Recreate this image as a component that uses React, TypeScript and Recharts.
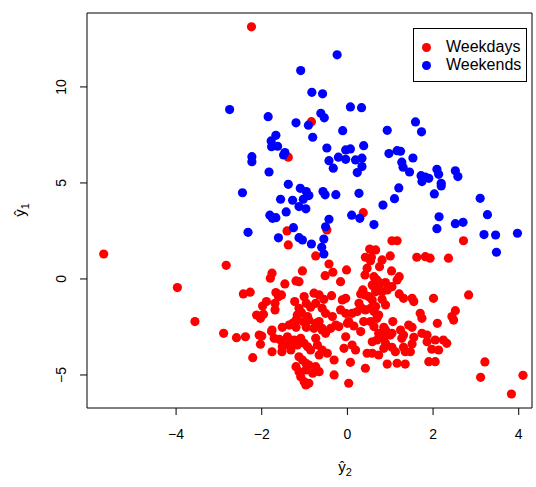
import { ScatterChart, Scatter, XAxis, YAxis, Legend, ReferenceArea } from 'recharts';

// Points, [x = y-hat 2, y = y-hat 1]
const weekends: [number, number][] = [
  [-2.75, 8.82], [-0.24, 11.67], [-1.09, 10.85], [-0.83, 9.72], [-0.58, 9.64],
  [-1.85, 8.45], [-0.62, 8.63], [-0.54, 8.39], [0.07, 8.96], [0.33, 8.92],
  [-0.91, 8.01], [-1.2, 8.13], [-0.11, 7.72], [-1.67, 7.48], [-0.81, 7.38],
  [-1.78, 7.19], [-1.77, 6.89], [-1.63, 6.91], [-0.48, 6.82], [0.38, 6.94],
  [-0.04, 6.72], [0.07, 6.77], [-1.46, 6.58], [-1.49, 6.46], [-2.23, 6.37],
  [-0.21, 6.34], [-0.04, 6.23], [0.19, 6.2], [0.34, 6.29], [-0.43, 6.16],
  [1.59, 8.18], [0.93, 7.74], [1.73, 7.66], [0.97, 6.53], [1.16, 6.68],
  [1.24, 6.65], [1.53, 6.3], [1.27, 6.08], [-2.23, 6.11], [-0.33, 5.77],
  [0.34, 5.85], [0.23, 5.54], [-1.83, 5.57], [-1.38, 4.93], [-1.1, 4.72],
  [-0.96, 4.55], [-0.9, 4.34], [-1.03, 4.15], [-0.57, 4.55], [-0.52, 4.38],
  [-0.27, 4.39], [0.27, 4.46], [-2.45, 4.49], [-1.56, 4.15], [-1.28, 4.1],
  [-1.13, 3.77], [-0.97, 3.65], [-1.43, 3.49], [-1.81, 3.32], [-1.75, 3.16],
  [-1.67, 3.19], [-0.43, 3.11], [0.1, 3.32], [0.29, 3.16], [0.62, 2.83],
  [-2.32, 2.43], [-1.26, 2.67], [-0.51, 2.72], [-1.61, 2.14], [-1.13, 2.15],
  [-1.05, 2.03], [-0.55, 2.08], [-0.84, 1.82], [-0.6, 1.65], [-0.55, 1.3],
  [1.3, 5.82], [1.45, 5.57], [1.72, 5.38], [1.74, 5.07], [1.82, 5.3],
  [1.9, 5.24], [2.09, 5.71], [2.13, 5.45], [2.19, 4.98], [2.19, 4.84],
  [2.52, 5.63], [2.58, 5.33], [2.03, 4.43], [1.2, 4.74], [1.1, 4.18],
  [0.83, 3.85], [3.1, 4.2], [3.27, 3.35], [2.14, 3.24], [2.09, 2.62],
  [2.52, 2.88], [2.7, 2.95], [3.19, 2.31], [3.46, 2.29], [3.97, 2.38],
  [3.48, 1.39],
];

const weekdays: [number, number][] = [
  [-2.24, 13.13], [-0.84, 8.19], [-1.38, 6.34], [0.37, 3.45], [-1.41, 2.5],
  [-0.48, 2.55], [-1.38, 1.77], [-0.74, 1.2], [2.71, 1.99], [-5.69, 1.3],
  [-2.83, 0.71], [-3.97, -0.45], [-3.56, -2.22], [-2.89, -2.83], [-2.59, -3.06],
  [0.52, 1.56], [0.66, 1.51], [0.42, 1.13], [0.56, 1.13], [1.04, 1.99],
  [1.16, 1.99], [1.0, 1.2], [0.81, 0.99], [1.62, 1.13], [1.82, 1.16],
  [1.93, 1.08], [2.36, 1.08], [-1.76, 0.3], [-1.8, 0.04], [-1.05, 0.42],
  [-1.46, -0.26], [-1.2, -0.1], [-2.43, -0.78], [-2.27, -0.69], [-1.67, -0.71],
  [-1.61, -0.92], [-1.54, -0.83], [-1.89, -1.18], [-1.98, -1.41], [-1.69, -1.27],
  [-1.23, -1.18], [-1.69, -1.61], [-2.12, -1.88], [-2.03, -2.05], [-1.96, -1.84],
  [-1.13, -1.53], [-1.07, -1.76], [-1.17, -1.88], [-1.2, -2.14], [-1.28, -2.31],
  [-1.36, -2.4], [-1.52, -2.52], [-1.2, -2.52], [-1.03, -2.22], [-0.93, -1.96],
  [-0.96, -2.52], [-1.76, -2.66], [-0.43, 0.78], [-0.02, 0.47], [-0.52, 0.17],
  [-0.34, 0.35], [-0.16, -0.14], [0.46, 0.56], [0.41, 0.21], [0.66, -0.14],
  [0.58, -0.31], [0.62, 0.12], [-1.13, -0.14], [-1.01, -0.92], [-0.78, -0.74],
  [-0.66, -0.83], [-0.37, -0.87], [-0.55, -1.06], [-0.74, -1.27], [-0.96, -1.27],
  [-0.86, -1.47], [-0.59, -1.53], [-0.51, -1.79], [-0.04, -1.01], [-0.12, -1.09],
  [0.36, -0.57], [0.31, -0.78], [0.41, -0.83], [0.5, -0.92], [0.62, -0.4],
  [0.66, -0.66], [0.27, -1.27], [0.34, -1.53], [0.42, -1.61], [0.23, -1.7],
  [0.54, -1.53], [0.66, -1.44], [-0.16, -1.61], [-0.04, -1.79], [0.11, -1.79],
  [-0.9, -2.14], [-0.66, -2.22], [-0.35, -1.96], [-0.2, -2.48], [0.03, -2.22],
  [0.15, -2.45], [0.38, -2.22], [0.54, -2.22], [0.69, -2.05], [-0.59, -2.57],
  [-0.78, -2.57], [0.54, 0.95], [0.75, 0.64], [1.03, 0.42], [1.21, 0.12],
  [1.16, -0.05], [0.69, -0.05], [0.77, -0.22], [0.89, -0.19], [1.04, -0.4],
  [0.93, -0.57], [0.81, -0.66], [0.73, -0.48], [1.21, -0.78], [1.31, -1.01],
  [1.51, -1.01], [1.55, -1.18], [2.01, -1.01], [2.83, -0.83], [0.58, -1.09],
  [0.81, -1.06], [0.89, -1.35], [0.62, -1.7], [0.73, -1.88], [1.7, -1.79],
  [1.74, -2.05], [2.52, -1.65], [2.44, -1.96], [1.06, -2.22], [2.1, -2.31],
  [1.43, -2.4], [1.51, -2.52], [0.85, -2.52], [1.24, -2.66], [-2.38, -3.01],
  [-2.06, -2.92], [-2.0, -2.97], [-2.03, -3.4], [-1.77, -2.74], [-1.71, -3.09],
  [-1.59, -3.14], [-1.52, -3.27], [-1.4, -3.01], [-1.24, -3.18], [-1.09, -3.09],
  [-1.52, -3.53], [-1.36, -3.44], [-1.32, -3.7], [-1.17, -3.44], [-1.01, -3.35],
  [-1.76, -3.79], [-1.53, -3.79], [-2.21, -4.1], [-1.13, -4.05], [-1.05, -4.22],
  [-1.2, -4.57], [-1.13, -4.83], [-0.97, -4.74], [-1.09, -5.09], [-1.01, -5.35],
  [-0.9, -5.43], [-0.74, -2.31], [-0.59, -2.66], [-0.51, -2.83], [-0.39, -2.57],
  [-0.27, -2.4], [0.0, -2.31], [0.31, -2.74], [0.62, -2.48], [0.73, -2.83],
  [0.85, -3.09], [0.69, -3.18], [0.58, -3.27], [0.89, -3.35], [-0.74, -3.09],
  [-0.93, -3.53], [-0.86, -3.7], [-0.7, -3.44], [-0.59, -3.7], [-0.47, -3.87],
  [-0.66, -3.96], [-0.04, -3.01], [0.11, -3.44], [0.19, -3.7], [-0.08, -3.61],
  [0.46, -3.87], [0.58, -3.87], [0.73, -3.96], [-0.31, -4.22], [0.07, -4.34],
  [-0.97, -4.39], [-0.9, -4.48], [-0.74, -4.57], [-0.66, -4.83], [-0.81, -4.91],
  [0.42, -4.65], [0.93, -4.43], [-0.31, -5.0], [-0.97, -5.52], [0.03, -5.43],
  [2.48, -2.14], [0.89, -2.66], [1.0, -2.92], [1.04, -2.83], [1.31, -2.92],
  [1.27, -3.09], [1.55, -3.04], [1.74, -2.83], [1.86, -2.92], [1.86, -3.27],
  [2.05, -3.18], [2.24, -3.18], [2.32, -3.35], [1.51, -3.39], [0.85, -3.61],
  [1.04, -3.56], [1.12, -3.79], [1.31, -3.56], [1.35, -3.79], [1.47, -3.79],
  [1.97, -3.66], [2.13, -3.7], [1.16, -4.39], [1.35, -4.43], [1.9, -4.31],
  [2.05, -4.31], [3.21, -4.32], [3.11, -5.12], [4.1, -5.02], [3.83, -5.99],
];

const xTicks = [-4, -2, 0, 2, 4];
const yTicks = [-5, 0, 5, 10];
const xDomain: [number, number] = [-6.08, 4.31];
const yDomain: [number, number] = [-6.72, 13.85];

const FONT = '"Liberation Sans", Arial, Helvetica, sans-serif';

const toRows = (pts: [number, number][]) => pts.map(([x, y]) => ({ x, y }));

const fmt = (v: number) => (v < 0 ? `\u2212${Math.abs(v)}` : `${v}`);

const dot = (color: string) => (props: any) =>
  <circle cx={props.cx} cy={props.cy} r={4.6} fill={color} />;

const YTick = ({ x, y, payload }: any) => (
  <text
    x={x}
    y={y}
    transform={`rotate(-90, ${x}, ${y})`}
    textAnchor="middle"
    fontSize={14}
    fontFamily={FONT}
    fill="#000"
  >
    {fmt(payload.value)}
  </text>
);

const XTick = ({ x, y, payload }: any) => (
  <text x={x} y={y} dy="0.71em" textAnchor="middle" fontSize={14} fontFamily={FONT} fill="#000">
    {fmt(payload.value)}
  </text>
);

const XTitle = () => (
  <text x={345} y={472} textAnchor="middle" fontSize={15} fontFamily={FONT} fill="#000">
    ŷ<tspan dy={4} fontSize={11}>2</tspan>
  </text>
);

const YTitle = () => (
  <text
    x={25}
    y={210}
    transform="rotate(-90, 25, 210)"
    textAnchor="middle"
    fontSize={15}
    fontFamily={FONT}
    fill="#000"
  >
    ŷ<tspan dy={4} fontSize={11}>1</tspan>
  </text>
);

const LegendBox = () => (
  <div
    style={{
      border: '1px solid #000',
      background: '#fff',
      width: 112,
      height: 52,
      boxSizing: 'content-box',
      fontFamily: FONT,
      fontSize: 16,
      color: '#000',
      position: 'relative',
    }}
  >
    {[
      { name: 'Weekdays', color: '#ff0000', top: 9 },
      { name: 'Weekends', color: '#0000ff', top: 27 },
    ].map((item) => (
      <div key={item.name} style={{ position: 'absolute', left: 8, top: item.top, display: 'flex', alignItems: 'center', lineHeight: '18px' }}>
        <span style={{ width: 9, height: 9, borderRadius: '50%', background: item.color, display: 'inline-block' }} />
        <span style={{ marginLeft: 15 }}>{item.name}</span>
      </div>
    ))}
  </div>
);

export default function App() {
  return (
    <div style={{ position: 'absolute', left: 0, top: 0, width: 536, height: 487, background: '#fff' }}>
      <ScatterChart width={536} height={487} margin={{ top: 13, right: 4, bottom: 0, left: 0 }}>
        <XAxis
          type="number"
          dataKey="x"
          domain={xDomain}
          ticks={xTicks}
          allowDataOverflow
          height={79}
          tickSize={7}
          tickMargin={14}
          axisLine={false}
          stroke="#000"
          tick={<XTick />}
          label={<XTitle />}
        />
        <YAxis
          type="number"
          dataKey="y"
          domain={yDomain}
          ticks={yTicks}
          allowDataOverflow
          width={87}
          tickSize={7}
          tickMargin={14}
          axisLine={false}
          stroke="#000"
          tick={<YTick />}
          label={<YTitle />}
        />
        {/* plot frame */}
        <ReferenceArea
          x1={xDomain[0]}
          x2={xDomain[1]}
          y1={yDomain[0]}
          y2={yDomain[1]}
          fill="none"
          fillOpacity={0}
          stroke="#000"
          strokeWidth={1}
          ifOverflow="visible"
        />
        <Legend
          layout="vertical"
          align="center"
          verticalAlign="middle"
          content={<LegendBox />}
          wrapperStyle={{ left: 413, top: 28, width: 114, height: 54 }}
        />
        <Scatter name="Weekdays" data={toRows(weekdays)} shape={dot('#ff0000')} isAnimationActive={false} />
        <Scatter name="Weekends" data={toRows(weekends)} shape={dot('#0000ff')} isAnimationActive={false} />
      </ScatterChart>
    </div>
  );
}
